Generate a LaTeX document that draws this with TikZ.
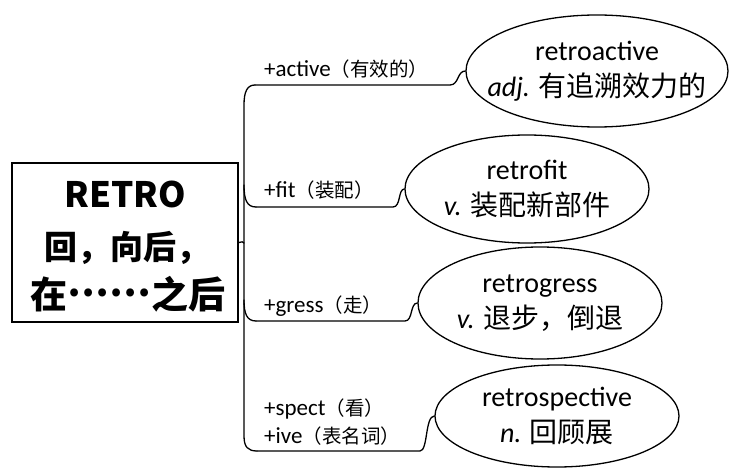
\documentclass[tikz,border=0pt]{standalone}
\usepackage{fontspec}
\setmainfont{Carlito}
\newfontfamily\cjkfont{Noto Sans CJK SC}
\usetikzlibrary{shapes.geometric}
\newcommand{\zh}[1]{{\cjkfont\fontsize{19.5}{28}\selectfont #1}}
\newcommand{\zhe}[1]{{\cjkfont #1}}
\newcommand{\pos}[1]{{\itshape #1}}
\tikzset{
  line/.style={line width=1.3pt, line cap=round, line join=round},
  rootbox/.style={draw, line width=2pt, minimum width=226pt, minimum height=159pt, inner sep=0pt},
  roottext/.style={inner sep=0pt, font=\cjkfont\bfseries},
  word/.style={draw, ellipse, line width=1.3pt, inner sep=0pt},
  wordtext/.style={inner sep=0pt, align=center, font=\fontsize{28}{36}\selectfont},
  lab/.style={anchor=base west, inner sep=0pt, font=\fontsize{23}{28}\selectfont},
}
\begin{document}
\begin{tikzpicture}[x=1pt,y=-1pt]
\useasboundingbox (0,0) rectangle (729,468);
\node[rootbox] (root) at (125,242.5) {};
\node[roottext, font=\cjkfont\bfseries\fontsize{35}{40}\selectfont] (r1) at (125,194) {RETRO};
\node[roottext, font=\cjkfont\bfseries\fontsize{33}{40}\selectfont] (r2) at (127,248) {回，向后，};
\node[roottext, font=\cjkfont\bfseries\fontsize{37}{40}\selectfont] (r3) at (128,294) {在\raisebox{0.33em}{……}之后};
\node[word, minimum width=262pt, minimum height=112pt] (e1) at (597,71) {};
\node[word, minimum width=244pt, minimum height=108pt] (e2) at (527,189) {};
\node[word, minimum width=244pt, minimum height=112pt] (e3) at (540,303) {};
\node[word, minimum width=244pt, minimum height=102pt] (e4) at (557,416) {};
\node[wordtext] (w1) at (e1.center) {retroactive\\\pos{adj.} \zhe{有追溯效力的}};
\node[wordtext] (w2) at (e2.center) {retrofit\\\pos{v.} \zhe{装配新部件}};
\node[wordtext] (w3) at (e3.center) {retrogress\\\pos{v.} \zhe{退步，倒退}};
\node[wordtext] (w4) at (e4.center) {retrospective\\\pos{n.} \zhe{回顾展}};
% trunk coordinates
\coordinate (t1) at (255,85);
\coordinate (h1) at (450,85);
\coordinate (t2) at (256,207);
\coordinate (h2) at (393,207);
\coordinate (t3) at (256,321);
\coordinate (h3) at (405,321);
\coordinate (t4) at (257,451);
\coordinate (h4) at (420,451);
\coordinate (ktop) at (244,105);
\coordinate (kbot) at (244,436);
\coordinate (k2) at (244,185);
\coordinate (k3) at (244,300);
\coordinate (kmid) at (244,243);
% trunk
\draw[line] (t1) .. controls (247,85) and (244,92) .. (ktop) -- (kbot) .. controls (244,447) and (248,451) .. (t4);
\draw[line] (k2) .. controls (244,200) and (247,207) .. (t2);
\draw[line] (k3) .. controls (244,314) and (247,321) .. (t3);
\draw[line] (root.east) .. controls (242,243) and (243,240) .. (kmid);
% branches
\draw[line] (t1) -- (h1) .. controls (459,85) and (457,71) .. (e1.west);
\draw[line] (t2) -- (h2) .. controls (401,207) and (398,189) .. (e2.west);
\draw[line] (t3) -- (h3) .. controls (413,321) and (410,303) .. (e3.west);
\draw[line] (t4) -- (h4) .. controls (428,451) and (425,416) .. (e4.west);
% labels
\node[lab] (l1) at (264,77) {+active\zh{（有效的）}};
\node[lab] (l2) at (264,198) {+fit\zh{（装配）}};
\node[lab] (l3) at (264,312) {+gress\zh{（走）}};
\node[lab] (l4) at (264,415) {+spect\zh{（看）}};
\node[lab] (l5) at (264,443) {+ive\zh{（表名词）}};
\end{tikzpicture}
\end{document}
